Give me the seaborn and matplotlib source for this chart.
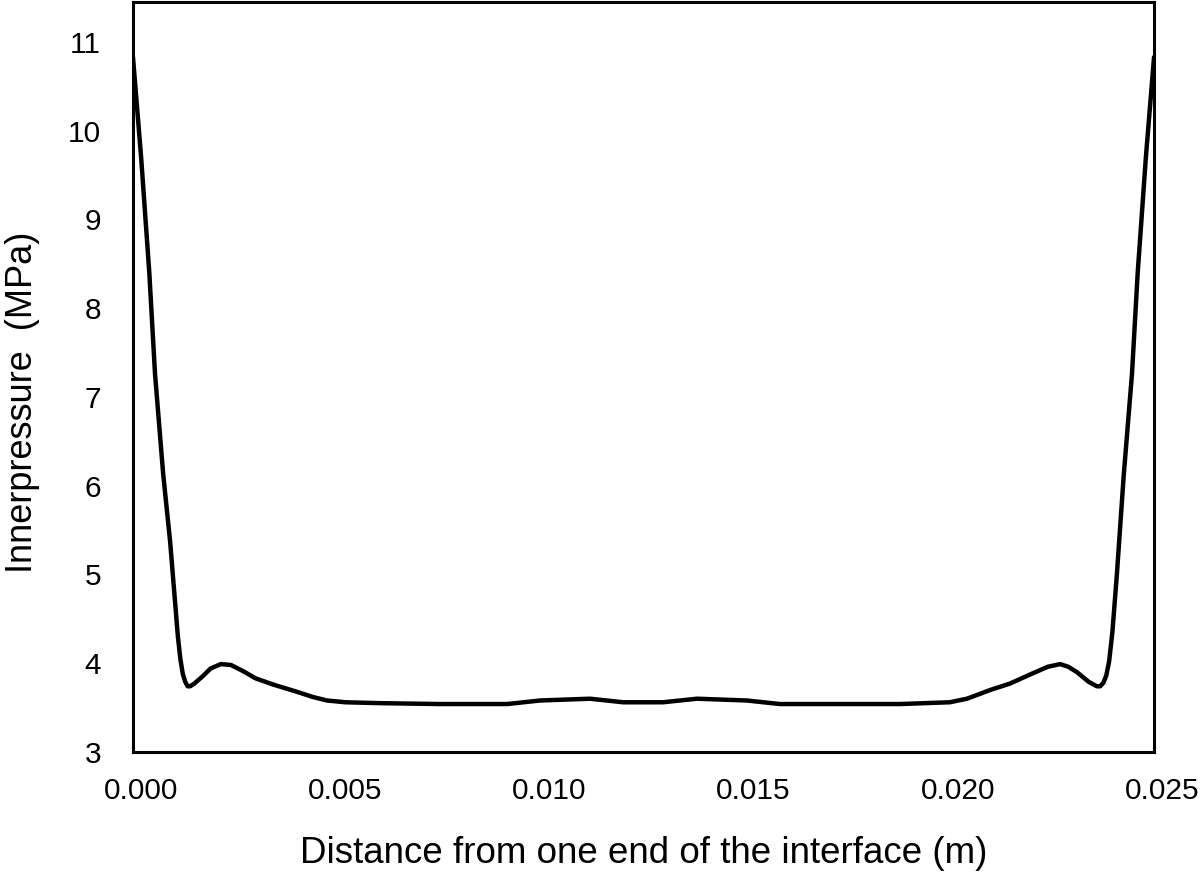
import pandas as pd
import matplotlib.pyplot as plt
import seaborn as sns
from matplotlib.transforms import ScaledTranslation

# values
distance = [0.0000, 0.0002, 0.0004, 0.00054, 0.00074, 0.00091, 0.00102, 0.00110,
            0.00116, 0.00122, 0.00128, 0.00134, 0.00140, 0.00150, 0.00170, 0.00190,
            0.00215, 0.00240, 0.00270, 0.00300, 0.00343, 0.00400, 0.00440, 0.00475,
            0.00520, 0.00605, 0.00750, 0.00916, 0.00997, 0.01119, 0.01200, 0.01298,
            0.01381, 0.01503, 0.01584, 0.01750, 0.01878, 0.02000, 0.02042, 0.02100,
            0.02147, 0.02200, 0.02240, 0.02270, 0.02290, 0.02311, 0.02340, 0.02360,
            0.02368, 0.02376, 0.02383, 0.02390, 0.02398, 0.02409, 0.02426, 0.02446,
            0.02460, 0.02480, 0.02500]
pressure = [10.83, 9.70, 8.40, 7.26, 6.13, 5.37, 4.75, 4.30,
            4.05, 3.88, 3.79, 3.74, 3.74, 3.77, 3.85, 3.94,
            3.99, 3.98, 3.91, 3.83, 3.76, 3.68, 3.62, 3.58,
            3.56, 3.55, 3.54, 3.54, 3.58, 3.60, 3.56, 3.56,
            3.60, 3.58, 3.54, 3.54, 3.54, 3.56, 3.60, 3.70,
            3.77, 3.88, 3.96, 3.99, 3.96, 3.90, 3.79, 3.74,
            3.74, 3.78, 3.86, 4.02, 4.35, 5.00, 6.13, 7.26,
            8.40, 9.70, 10.83]
xticks = [0.000, 0.005, 0.010, 0.015, 0.020, 0.025]
xtick_labels = ["0.000", "0.005", "0.010", "0.015", "0.020", "0.025"]
yticks = [3, 4, 5, 6, 7, 8, 9, 10, 11]

df = pd.DataFrame({"distance": distance, "pressure": pressure})

sns.set_style("white")
plt.rcParams['font.family'] = ['Liberation Sans', 'DejaVu Sans']

fig = plt.figure(figsize=(12, 8.83), dpi=100)
ax = fig.add_axes([0.1108, 0.1484, 0.8509, 0.8493])
sns.lineplot(data=df, x="distance", y="pressure", color="black", linewidth=3.2, ax=ax)

ax.set_xlim(0, 0.025)
ax.set_ylim(3, 11.45)
ax.set_xticks(xticks)
ax.set_xticklabels(xtick_labels)
ax.set_yticks(yticks)
ax.tick_params(axis="both", length=0, labelsize=21.5, colors="black")
ax.tick_params(axis="x", pad=18)
ax.tick_params(axis="y", pad=23)
for lbl in ax.get_xticklabels():
    lbl.set_transform(lbl.get_transform() + ScaledTranslation(0.08, 0, fig.dpi_scale_trans))

for s in ax.spines.values():
    s.set_color("black")
    s.set_linewidth(2.2)

ax.set_xlabel("Distance from one end of the interface (m)", fontsize=26.5, color="black", labelpad=22)
ax.set_ylabel("Innerpressure  (MPa)", fontsize=26, color="black")
ax.yaxis.set_label_coords(-0.091, 0.466)

fig.savefig("out.png", dpi=100)
